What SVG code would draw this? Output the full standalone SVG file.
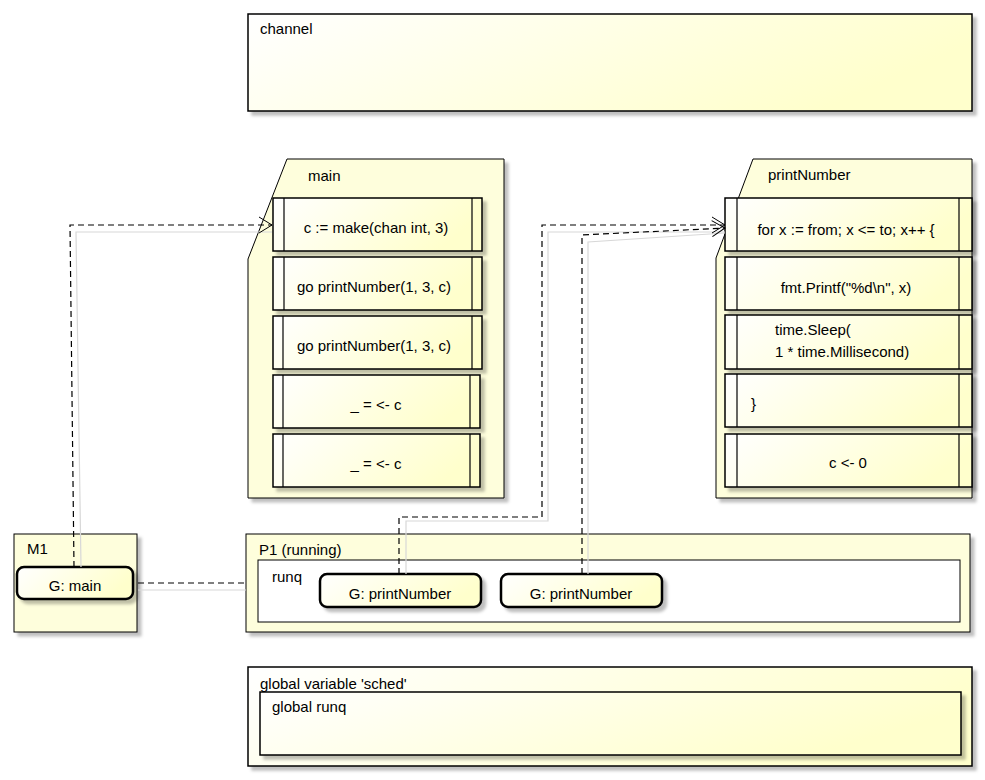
<svg xmlns="http://www.w3.org/2000/svg" width="985" height="780" viewBox="0 0 985 780">
<defs>
<linearGradient id="gy" x1="0" y1="0" x2="1" y2="0.3">
<stop offset="0" stop-color="#ffffff"/>
<stop offset="1" stop-color="#ffffcc"/>
</linearGradient>
<filter id="sh" x="-10%" y="-10%" width="130%" height="140%">
<feDropShadow dx="4" dy="4" stdDeviation="1.5" flood-color="#000" flood-opacity="0.25"/>
</filter>
<marker id="ah" markerWidth="16" markerHeight="18" refX="14" refY="9" orient="auto" markerUnits="userSpaceOnUse">
<path d="M1,1 L14,9 L1,17" fill="none" stroke="#000" stroke-width="1"/>
</marker>
</defs>
<style>
text{font-family:"Liberation Sans",Arial,sans-serif;font-size:15px;fill:#000}
.c{text-anchor:middle}
.box{fill:url(#gy);stroke:#000;stroke-width:1.5;filter:url(#sh)}
.frame{fill:#fefedc;stroke:#000;stroke-width:1;filter:url(#sh)}
.plain{fill:#fefedc;stroke:#000;stroke-width:1;filter:url(#sh)}
.inner{fill:#ffffff;stroke:#000;stroke-width:1}
.g{fill:url(#gy);stroke:#000;stroke-width:2.5;filter:url(#sh)}
.bar{stroke:#000;stroke-width:1.2}
.dash{fill:none;stroke:#000;stroke-width:1.2;stroke-dasharray:6,4}
.shl{fill:none;stroke:#d8d8d8;stroke-width:1.2}
</style>

<g id="channel">
<rect x="248" y="14" width="724" height="97" class="box" stroke-width="1"/>
<text x="260" y="34">channel</text>
</g>

<g id="main">
<path d="M287,159 H504 V498 H248 V259 Z" class="frame"/>
<text x="308" y="181">main</text>
<rect x="273" y="198" width="209" height="53" class="box"/>
<line x1="284" y1="198" x2="284" y2="251" class="bar"/><line x1="472" y1="198" x2="472" y2="251" class="bar"/>
<text x="376" y="233" class="c">c := make(chan int, 3)</text>
<rect x="273" y="257" width="209" height="53" class="box"/>
<line x1="284" y1="257" x2="284" y2="310" class="bar"/><line x1="472" y1="257" x2="472" y2="310" class="bar"/>
<text x="374" y="292" class="c">go printNumber(1, 3, c)</text>
<rect x="273" y="316" width="209" height="53" class="box"/>
<line x1="283" y1="316" x2="283" y2="369" class="bar"/><line x1="472" y1="316" x2="472" y2="369" class="bar"/>
<text x="374" y="351" class="c">go printNumber(1, 3, c)</text>
<rect x="273" y="375" width="207" height="53" class="box"/>
<line x1="283" y1="375" x2="283" y2="428" class="bar"/><line x1="470" y1="375" x2="470" y2="428" class="bar"/>
<text x="376" y="410" class="c">_ = &lt;- c</text>
<rect x="273" y="434" width="207" height="53" class="box"/>
<line x1="283" y1="434" x2="283" y2="487" class="bar"/><line x1="470" y1="434" x2="470" y2="487" class="bar"/>
<text x="376" y="469" class="c">_ = &lt;- c</text>
</g>

<g id="printNumber">
<path d="M753,159 H972 V498 H716 V258 Z" class="frame"/>
<text x="768" y="180">printNumber</text>
<rect x="725" y="198" width="247" height="53" class="box"/>
<line x1="737" y1="198" x2="737" y2="251" class="bar"/><line x1="959" y1="198" x2="959" y2="251" class="bar"/>
<text x="846" y="235" class="c">for x := from; x &lt;= to; x++ {</text>
<rect x="725" y="257" width="247" height="53" class="box"/>
<line x1="737" y1="257" x2="737" y2="310" class="bar"/><line x1="959" y1="257" x2="959" y2="310" class="bar"/>
<text x="846" y="293" class="c">fmt.Printf("%d\n", x)</text>
<rect x="725" y="315" width="247" height="54" class="box"/>
<line x1="737" y1="315" x2="737" y2="369" class="bar"/><line x1="959" y1="315" x2="959" y2="369" class="bar"/>
<text x="775" y="335">time.Sleep(</text>
<text x="775" y="357">1 * time.Millisecond)</text>
<rect x="725" y="374" width="247" height="53" class="box"/>
<line x1="737" y1="374" x2="737" y2="427" class="bar"/><line x1="959" y1="374" x2="959" y2="427" class="bar"/>
<text x="751" y="409">}</text>
<rect x="725" y="434" width="247" height="53" class="box"/>
<line x1="737" y1="434" x2="737" y2="487" class="bar"/><line x1="959" y1="434" x2="959" y2="487" class="bar"/>
<text x="848" y="468" class="c">c &lt;- 0</text>
</g>

<g id="M1">
<rect x="14" y="534" width="123" height="98" class="plain"/>
<text x="27" y="554">M1</text>
</g>
<g id="G-main">
<rect x="17" y="567" width="116" height="32" rx="7" class="g"/>
<text x="75" y="591" class="c">G: main</text>
</g>

<g id="P1">
<rect x="246" y="534" width="724" height="98" class="plain"/>
<text x="259" y="555">P1 (running)</text>
<rect x="258" y="560" width="702" height="62" class="inner"/>
<text x="272" y="582">runq</text>
</g>
<g id="G-printNumber-1">
<rect x="320" y="574" width="161" height="33" rx="7" class="g"/>
<text x="400" y="599" class="c">G: printNumber</text>
</g>
<g id="G-printNumber-2">
<rect x="501" y="574" width="161" height="33" rx="7" class="g"/>
<text x="581" y="599" class="c">G: printNumber</text>
</g>

<g id="sched">
<rect x="248" y="667" width="724" height="99" class="box" stroke-width="1"/>
<text x="260" y="689">global variable 'sched'</text>
<rect x="260" y="692" width="701" height="63" class="box" stroke-width="1"/>
<text x="272" y="712">global runq</text>
</g>

<g id="connectors">
<path d="M81,567 L76,232 H272" class="shl"/>
<path d="M406,574 V521 H548 V232 H725" class="shl"/>
<path d="M588,574 V242 L725,233" class="shl"/>
<path d="M138,590 H246" class="shl"/>
<path d="M74,567 L70,225 H272" class="dash" marker-end="url(#ah)"/>
<path d="M399,574 V517 H542 V225 H725" class="dash" marker-end="url(#ah)"/>
<path d="M582,574 V235 L725,228" class="dash" marker-end="url(#ah)"/>
<path d="M138,583 H247" class="dash"/>
</g>
</svg>
